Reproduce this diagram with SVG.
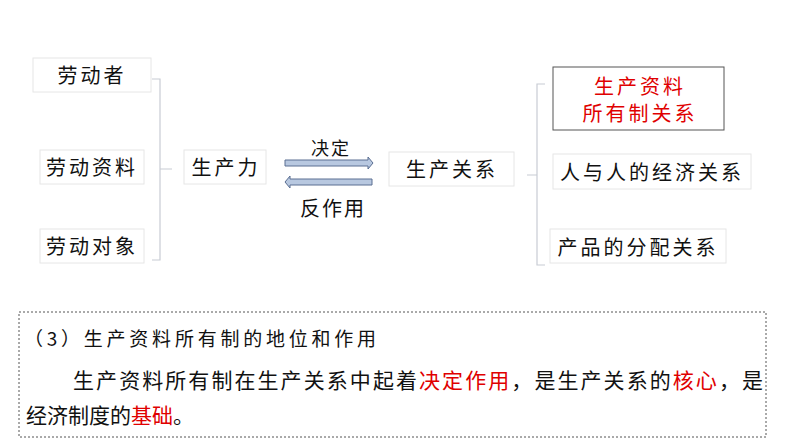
<svg xmlns="http://www.w3.org/2000/svg" width="794" height="447" viewBox="0 0 794 447">
<style>
text{font-family:"Noto Sans CJK SC","Noto Sans",sans-serif;fill:#111}
.b{fill:#fff;stroke:#e6e6e6;stroke-width:1}
.t{font-size:20px;text-anchor:middle;letter-spacing:3px}
.r{fill:#e00000}
.br{fill:none;stroke:#c8ccd4;stroke-width:1.2}
.ar{fill:#b8c8e0;stroke:#5a6e92;stroke-width:1}
</style>
<rect width="794" height="447" fill="#fff"/>
<g id="n1"><rect class="b" x="33" y="58" width="118" height="34"/><text class="t" x="92" y="83">劳动者</text></g>
<g id="n2"><rect class="b" x="40" y="150" width="104" height="34"/><text class="t" x="92" y="175">劳动资料</text></g>
<g id="n3"><rect class="b" x="40" y="229" width="104" height="34"/><text class="t" x="92" y="254">劳动对象</text></g>
<g id="n4"><rect class="b" x="184" y="150" width="82" height="34"/><text class="t" x="226" y="175">生产力</text></g>
<g id="n5"><rect class="b" x="389" y="152" width="125" height="34"/><text class="t" x="452" y="177">生产关系</text></g>
<g id="n6"><rect x="553" y="67" width="171" height="63" fill="#fff" stroke="#555" stroke-width="1"/><text class="t r" x="640" y="94">生产资料</text><text class="t r" x="640" y="121">所有制关系</text></g>
<g id="n7"><rect class="b" x="553" y="154" width="198" height="35"/><text class="t" x="652" y="180">人与人的经济关系</text></g>
<g id="n8"><rect class="b" x="550" y="229" width="176" height="34"/><text class="t" x="638" y="255">产品的分配关系</text></g>
<g id="connectors">
<path class="br" d="M152 79 H160 V260 H152 M160 169 H172"/>
<path class="br" d="M545 84 H537 V265 H545 M527 175 H537"/>
<path class="ar" d="M285 160 H368 V157 L373 163 L368 169 V166 H285 Z"/>
<path class="ar" d="M372 179 H290 V176 L285 182 L290 188 V185 H372 Z"/>
</g>
<text x="331" y="155" font-size="18" text-anchor="middle" letter-spacing="2">决定</text>
<text x="333" y="216" font-size="20" text-anchor="middle" letter-spacing="2">反作用</text>
<g id="note">
<rect x="19" y="312" width="747" height="125" fill="none" stroke="#555" stroke-width="1" stroke-dasharray="2,2"/>
<text x="24" y="346" font-size="19" textLength="352">（3）生产资料所有制的地位和作用</text>
<text x="73" y="388" font-size="21" textLength="690">生产资料所有制在生产关系中起着<tspan class="r">决定作用</tspan>，是生产关系的<tspan class="r">核心</tspan>，是</text>
<text x="26" y="423" font-size="21">经济制度的<tspan class="r">基础</tspan>。</text>
</g>
</svg>
